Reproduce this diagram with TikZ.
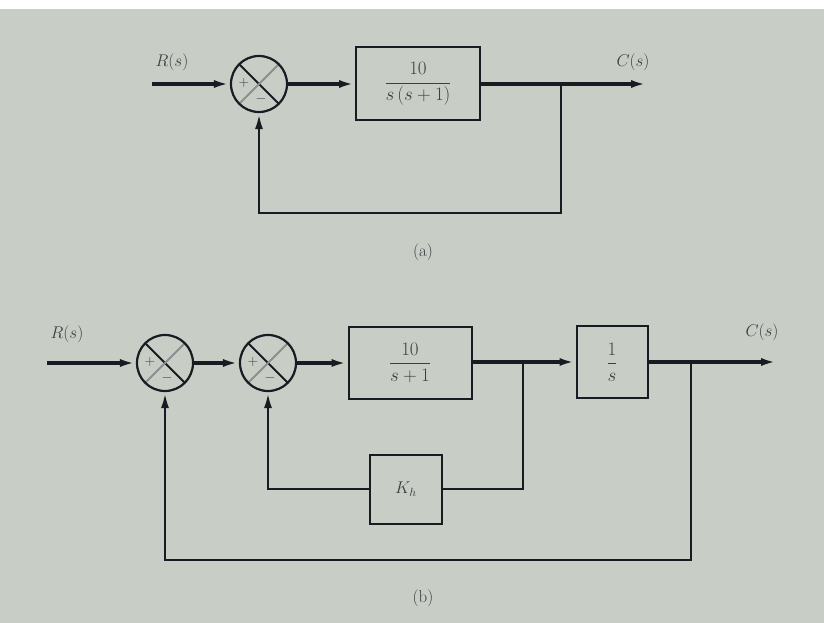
\RequirePackage{fix-cm}
\documentclass[tikz,border=0pt]{standalone}
\usepackage{amsmath}
\usetikzlibrary{arrows.meta,positioning,calc}
\definecolor{paper}{HTML}{C8CEC6}
\definecolor{ink}{HTML}{1A1A22}
\definecolor{print}{HTML}{3E3E42}

\begin{document}
\begin{tikzpicture}[x=1pt,y=-1pt,font=\fontsize{17}{20}\selectfont,
  blk/.style={draw=ink,line width=2pt,text=print,inner sep=0pt,
              font=\fontsize{19}{22}\selectfont},
  sumjn/.style={circle,draw=ink,line width=2.2pt,minimum size=56pt,inner sep=0pt,
    path picture={
      \draw[ink,line width=1.8pt] (path picture bounding box.north west)
        -- (path picture bounding box.south east);
      \draw[ink!50,line width=1.8pt] (path picture bounding box.north east)
        -- (path picture bounding box.south west);
      \node[text=print,font=\fontsize{14}{15}\selectfont]
        at ($(path picture bounding box.center)+(-15,-1)$) {$+$};
      \node[text=print,font=\fontsize{14}{15}\selectfont]
        at ($(path picture bounding box.center)+(2,15)$) {$-$};}},
  fwd/.style={-{Latex[length=16pt,width=8pt]},line width=3.4pt,draw=ink},
  fbk/.style={-{Latex[length=16pt,width=8pt]},line width=2.8pt,draw=ink},
  fbl/.style={line width=2.8pt,draw=ink},
  sig/.style={text=print},
  subcap/.style={text=print,font=\fontsize{17}{20}\selectfont}]

  % photo background
  \fill[paper] (0,0) rectangle (824,623);
  \fill[white] (0,0) rectangle (824,9);
  \useasboundingbox (0,0) rectangle (824,623);

  % (a) unity feedback
  \coordinate (rinA) at (152,84);
  \node[sumjn] (sumA) at (259,84) {};
  \node[blk,minimum width=124pt,minimum height=73pt] (plantA) at (418,84)
    {$\dfrac{10}{s\,(s+1)}$};
  \coordinate (brA) at (561,84);
  \coordinate (outA) at (647,84);
  \coordinate (loopA) at (259,213);
  \node[sig] (rlabA) at (172,62) {$R(s)$};
  \node[sig] (clabA) at (633,62) {$C(s)$};

  \draw[fwd] (rinA) -- (sumA);
  \draw[fwd] (sumA) -- (plantA);
  \draw[fwd] (plantA) -- (outA);
  \draw[fbk] (brA) |- (loopA) -- (sumA.south);

  \node[subcap] (capA) at (423,252) {(a)};

  % (b) with velocity feedback
  \coordinate (rinB) at (47,363);
  \node[sumjn] (sumB) at (165,363) {};
  \node[sumjn] (sumC) at (268,363) {};
  \node[blk,minimum width=123pt,minimum height=72pt] (plantB) at (410,363)
    {$\dfrac{10}{s+1}$};
  \coordinate (brB) at (523,363);
  \node[blk,minimum width=71pt,minimum height=72pt] (integ) at (612,362)
    {$\dfrac{1}{s}$};
  \coordinate (brC) at (691,362);
  \coordinate (outB) at (777,362);
  \node[blk,minimum width=72pt,minimum height=69pt,font=\fontsize{17}{20}\selectfont]
    (gainK) at (406,489) {$K_h$};
  \coordinate (loopB) at (165,560);
  \node[sig] (rlabB) at (67,334) {$R(s)$};
  \node[sig] (clabB) at (762,332) {$C(s)$};

  \draw[fwd] (rinB) -- (sumB);
  \draw[fwd] (sumB) -- (sumC);
  \draw[fwd] (sumC) -- (plantB);
  \draw[fwd] (plantB.east |- integ) -- (integ);
  \draw[fwd] (integ) -- (outB);
  \draw[fbl] (brB |- integ) |- (gainK);
  \draw[fbk] (gainK) -| (sumC.south);
  \draw[fbk] (brC) |- (loopB) -- (sumB.south);

  \node[subcap] (capB) at (423,598) {(b)};
\end{tikzpicture}
\end{document}
